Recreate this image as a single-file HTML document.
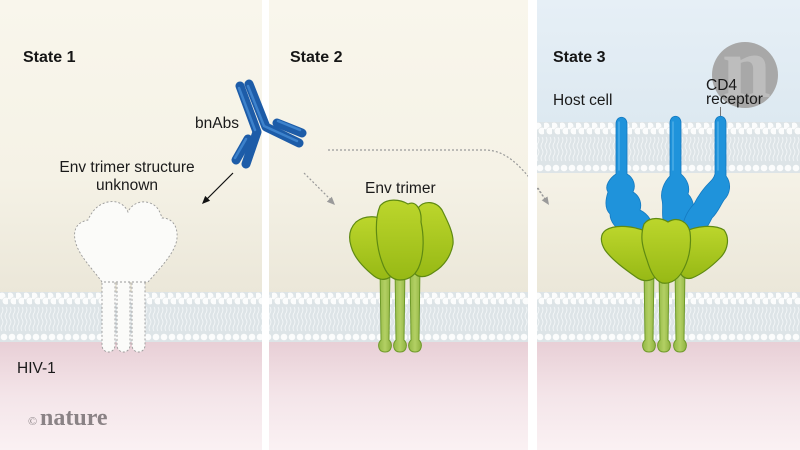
<!DOCTYPE html>
<html><head><meta charset="utf-8"><style>
html,body{margin:0;padding:0;background:#fff;}
svg{display:block;}
text{font-family:"Liberation Sans",sans-serif;}
</style></head><body>
<svg width="800" height="450" viewBox="0 0 800 450" xmlns="http://www.w3.org/2000/svg">
<defs>
  <linearGradient id="cream" x1="0" y1="0" x2="0" y2="292" gradientUnits="userSpaceOnUse">
    <stop offset="0" stop-color="#f9f6ec"/><stop offset="0.6" stop-color="#f5f2e6"/><stop offset="1" stop-color="#ebe7d9"/>
  </linearGradient>
  <linearGradient id="pink" x1="0" y1="342" x2="0" y2="450" gradientUnits="userSpaceOnUse">
    <stop offset="0" stop-color="#e8cfd6"/><stop offset="0.5" stop-color="#f4e5e9"/><stop offset="1" stop-color="#faf1f3"/>
  </linearGradient>
  <linearGradient id="blue" x1="0" y1="0" x2="0" y2="122" gradientUnits="userSpaceOnUse">
    <stop offset="0" stop-color="#e6eff6"/><stop offset="1" stop-color="#dde9f1"/>
  </linearGradient>
  <linearGradient id="mid3" x1="0" y1="173" x2="0" y2="292" gradientUnits="userSpaceOnUse">
    <stop offset="0" stop-color="#f5f2e7"/><stop offset="1" stop-color="#ebe7d9"/>
  </linearGradient>
  <linearGradient id="lobe" x1="0" y1="0" x2="0" y2="1">
    <stop offset="0" stop-color="#bcd62c"/><stop offset="1" stop-color="#97b915"/>
  </linearGradient>
  <linearGradient id="stem" x1="0" y1="0" x2="1" y2="0">
    <stop offset="0" stop-color="#93b845"/><stop offset="0.5" stop-color="#b3d064"/><stop offset="1" stop-color="#8fb240"/>
  </linearGradient>
  <clipPath id="logoclip"><circle cx="745" cy="75" r="33"/></clipPath>
  <pattern id="memA" x="0" y="292" width="8" height="50" patternUnits="userSpaceOnUse">
    <rect width="8" height="50" fill="#dde4e7"/>
    <path d="M2,15 q2,3 0,6 q-2,3 0,6 q2,3 0,6 q-2,3 0,6 M6,15 q2,3 0,6 q-2,3 0,6 q2,3 0,6 q-2,3 0,6" stroke="#f6f9fa" stroke-width="0.8" fill="none"/>
    <circle cx="2" cy="4" r="3.8" fill="#fbfcfc" stroke="#d3dadd" stroke-width="0.4"/>
    <circle cx="6" cy="9" r="3.8" fill="#fbfcfc" stroke="#d3dadd" stroke-width="0.4"/>
    <circle cx="4" cy="45" r="3.3" fill="#fbfcfc"/>
  </pattern>
  <pattern id="memB" x="0" y="122" width="8" height="51" patternUnits="userSpaceOnUse">
    <rect width="8" height="51" fill="#dde4e7"/>
    <path d="M2,15 q2,3 0,6 q-2,3 0,6 q2,3 0,6 q-2,3 0,6 M6,15 q2,3 0,6 q-2,3 0,6 q2,3 0,6 q-2,3 0,6" stroke="#f6f9fa" stroke-width="0.8" fill="none"/>
    <circle cx="2" cy="4" r="3.8" fill="#fbfcfc" stroke="#d3dadd" stroke-width="0.4"/>
    <circle cx="6" cy="9" r="3.8" fill="#fbfcfc" stroke="#d3dadd" stroke-width="0.4"/>
    <circle cx="4" cy="46" r="3.3" fill="#fbfcfc"/>
  </pattern>
</defs>

<!-- backgrounds -->
<rect x="0" y="0" width="800" height="450" fill="#ffffff"/>
<rect x="0" y="0" width="262" height="292" fill="url(#cream)"/>
<rect x="269" y="0" width="259" height="292" fill="url(#cream)"/>
<rect x="537" y="0" width="263" height="122" fill="url(#blue)"/>
<rect x="537" y="173" width="263" height="119" fill="url(#mid3)"/>
<rect x="0" y="342" width="262" height="108" fill="url(#pink)"/>
<rect x="269" y="342" width="259" height="108" fill="url(#pink)"/>
<rect x="537" y="342" width="263" height="108" fill="url(#pink)"/>
<!-- membranes -->
<rect x="0" y="292" width="262" height="50" fill="url(#memA)"/>
<rect x="269" y="292" width="259" height="50" fill="url(#memA)"/>
<rect x="537" y="292" width="263" height="50" fill="url(#memA)"/>
<rect x="537" y="122" width="263" height="51" fill="url(#memB)"/>

<!-- nature logo circle -->
<circle cx="745" cy="75" r="33" fill="#a8a8a8"/>
<g clip-path="url(#logoclip)">
<text x="722" y="97" font-weight="bold" font-size="88" fill="#bdbdbd" style="font-family:'Liberation Serif',serif">n</text>
</g>

<!-- texts -->
<text x="23" y="62" font-size="16" font-weight="bold" fill="#161616">State 1</text>
<text x="290" y="62" font-size="16" font-weight="bold" fill="#161616">State 2</text>
<text x="553" y="62" font-size="16" font-weight="bold" fill="#161616">State 3</text>
<text x="195" y="128" font-size="15.5" fill="#1a1a1a">bnAbs</text>
<text x="127" y="172" font-size="15.5" fill="#1a1a1a" text-anchor="middle">Env trimer structure</text>
<text x="127" y="190" font-size="15.5" fill="#1a1a1a" text-anchor="middle">unknown</text>
<text x="365" y="193" font-size="15.5" fill="#1a1a1a">Env trimer</text>
<text x="553" y="105" font-size="15.5" fill="#1a1a1a">Host cell</text>
<text x="706" y="90" font-size="15.5" fill="#1a1a1a">CD4</text>
<text x="706" y="104" font-size="15.5" fill="#1a1a1a">receptor</text>
<line x1="720.5" y1="107" x2="720.5" y2="119" stroke="#777" stroke-width="1"/>
<text x="17" y="373" font-size="15.5" fill="#1a1a1a">HIV-1</text>
<text x="28" y="425" font-size="12" fill="#8a8285" style="font-family:'Liberation Serif',serif">©</text>
<text x="40" y="425" font-size="24" font-weight="bold" fill="#8a8285" style="font-family:'Liberation Serif',serif">nature</text>

<!-- ghost trimer panel 1 -->
<g fill="#fbfbf9" stroke="#999" stroke-width="0.9" stroke-dasharray="2,2">
  <rect x="102" y="262" width="13" height="90" rx="6.5"/>
  <rect x="117" y="262" width="13" height="90" rx="6.5"/>
  <rect x="132" y="262" width="13" height="90" rx="6.5"/>
  <path d="M102,282 C92,268 78,255 75,240 C73,228 78,222 88,220 C92,211 98,204 108,202 C118,200 125,205 128,212 C132,203 142,200 150,203 C158,206 160,212 162,218 C172,218 178,226 177,238 C176,252 160,268 148,282 Z"/>
</g>

<!-- trimer panel 2 -->
<g stroke="#6f9a2a" stroke-width="1">
  <path d="M380,265 L390,265 L389,340 C393,344 392,352 385,352 C378,352 377,344 381,340 Z" fill="url(#stem)"/>
  <path d="M395,265 L405,265 L404,340 C408,344 407,352 400,352 C393,352 392,344 396,340 Z" fill="url(#stem)"/>
  <path d="M410,265 L420,265 L419,340 C423,344 422,352 415,352 C408,352 407,344 411,340 Z" fill="url(#stem)"/>
</g>
<g stroke="#5f8a12" stroke-width="1.2" fill="url(#lobe)">
  <path d="M356,222 C366,214 380,216 386,222 C392,240 396,258 395,268 C393,280 382,282 374,276 C364,268 354,258 351,246 C348,236 350,228 356,222 Z"/>
  <path d="M418,208 C424,200 436,201 442,210 C448,222 454,234 453,244 C451,256 444,266 434,272 C426,278 416,279 413,270 C412,258 414,240 416,222 Z"/>
  <path d="M380,206 C386,198 400,199 408,204 C416,200 422,210 421,222 C424,236 424,252 420,264 C416,276 408,280 400,280 C392,280 386,274 382,262 C376,246 374,220 380,206 Z"/>
</g>

<!-- CD4 receptors -->
<g fill="#1f93db" stroke="#1479c0" stroke-width="0.8">
  <path d="M616,124 C616,115 627,115 627,124 L627,174 C634,178 636,186 633,192 C640,196 642,204 640,210 C648,214 654,222 652,232 C646,240 630,240 624,234 C616,228 610,222 610,214 C604,208 606,198 608,192 C604,186 610,178 616,174 Z"/>
  <path d="M670,123 C670,114 681,114 681,123 L681,174 C688,180 690,188 688,194 C694,200 696,212 692,222 C688,232 672,234 666,226 C660,218 664,208 662,200 C660,192 664,182 670,176 Z"/>
  <path d="M715,123 C715,114 726,114 726,123 L726,176 C732,184 730,194 724,200 C720,206 718,212 712,218 C708,226 704,234 696,238 C688,242 680,236 682,228 C684,218 688,210 694,204 C698,196 704,188 708,184 C712,180 714,178 715,174 Z"/>
</g>
<g stroke="#5fb7ec" stroke-width="1.5" fill="none" stroke-linecap="round" opacity="0.7">
  <line x1="619" y1="122" x2="619" y2="170"/>
  <line x1="673" y1="122" x2="673" y2="170"/>
  <line x1="718" y1="122" x2="718" y2="170"/>
</g>

<!-- trimer panel 3 -->
<g stroke="#6f9a2a" stroke-width="1">
  <path d="M644,265 L654,265 L653,340 C657,344 656,352 649,352 C642,352 641,344 645,340 Z" fill="url(#stem)"/>
  <path d="M659,265 L669,265 L668,340 C672,344 671,352 664,352 C657,352 656,344 660,340 Z" fill="url(#stem)"/>
  <path d="M675,265 L685,265 L684,340 C688,344 687,352 680,352 C673,352 672,344 676,340 Z" fill="url(#stem)"/>
</g>
<g stroke="#5f8a12" stroke-width="1.2" fill="url(#lobe)">
  <path d="M606,230 C616,224 634,226 648,232 C656,244 660,260 659,270 C656,282 644,283 636,277 C626,270 612,260 605,250 C600,242 600,234 606,230 Z"/>
  <path d="M684,232 C696,226 714,224 724,230 C730,238 728,250 720,258 C712,266 702,274 692,278 C682,281 676,270 678,258 C678,248 680,238 684,232 Z"/>
  <path d="M644,224 C650,216 662,218 668,222 C678,216 688,222 690,232 C692,248 688,262 682,272 C676,282 668,284 662,283 C654,280 650,270 647,260 C642,246 640,236 644,224 Z"/>
</g>

<!-- arrows -->
<line x1="233" y1="173" x2="206" y2="200" stroke="#111" stroke-width="1.2"/>
<polygon points="202,204 210.1,200.8 205.2,195.9" fill="#111"/>
<line x1="304" y1="173" x2="331" y2="200" stroke="#9a9a9a" stroke-width="1.2" stroke-dasharray="2,2"/>
<polygon points="335,205 331.8,196.8 326.8,201.8" fill="#9a9a9a"/>
<path d="M328,150 L485,150 C505,150 520,165 535,185 L545,199" stroke="#9a9a9a" stroke-width="1.2" stroke-dasharray="2,2" fill="none"/>

<!-- panel dividers -->
<rect x="262" y="0" width="7" height="450" fill="#ffffff"/>
<rect x="528" y="0" width="9" height="450" fill="#ffffff"/>

<polygon points="549,205 547.5,196.5 541.7,200.3" fill="#9a9a9a"/>
<line x1="538" y1="188" x2="545" y2="199" stroke="#9a9a9a" stroke-width="1.2" stroke-dasharray="2,2"/>

<!-- antibody (drawn over divider) -->
<g stroke-linecap="round" stroke-linejoin="round" fill="none">
  <polyline points="240,86 257,132 246,164" stroke="#1d5ca8" stroke-width="9"/>
  <polyline points="249,84 266,127 299,143" stroke="#1d5ca8" stroke-width="9"/>
  <line x1="277" y1="123" x2="302" y2="133" stroke="#1d5ca8" stroke-width="9"/>
  <line x1="236" y1="160" x2="248" y2="139" stroke="#1d5ca8" stroke-width="9"/>
  <polyline points="239,88 255,130" stroke="#3d82cc" stroke-width="2.5"/>
  <polyline points="248,86 264,126 297,141" stroke="#3d82cc" stroke-width="2.5"/>
  <line x1="278" y1="121" x2="300" y2="130" stroke="#3d82cc" stroke-width="2.5"/>
  <line x1="235" y1="158" x2="246" y2="139" stroke="#3d82cc" stroke-width="2.5"/>
</g>
</svg>
</body></html>
